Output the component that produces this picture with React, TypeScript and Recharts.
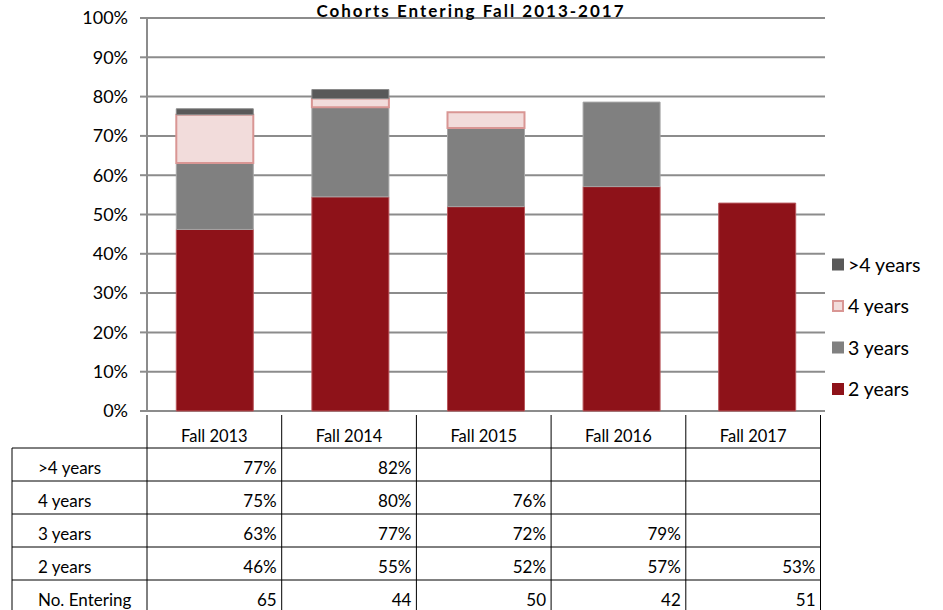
import React from 'react';
import { BarChart, Bar, XAxis, YAxis, CartesianGrid } from 'recharts';

const categories = ['Fall 2013', 'Fall 2014', 'Fall 2015', 'Fall 2016', 'Fall 2017'];
// cumulative completion rates (%)
const twoYears: (number | null)[] = [46.2, 54.5, 52.0, 57.1, 52.9];
const threeYears: (number | null)[] = [63.1, 77.3, 72.0, 78.6, null];
const fourYears: (number | null)[] = [75.4, 79.5, 76.0, null, null];
const overFourYears: (number | null)[] = [76.9, 81.8, null, null, null];
const noEntering = [65, 44, 50, 42, 51];
const yTicks = [0, 10, 20, 30, 40, 50, 60, 70, 80, 90, 100];
const title = 'Cohorts Entering Fall 2013-2017';

const series = [
  { key: 'y2', name: '2 years', cum: twoYears, fill: '#8E1219', stroke: '#b8565b', sw: 1 },
  { key: 'y3', name: '3 years', cum: threeYears, fill: '#808080', stroke: '#a6a6a6', sw: 1 },
  { key: 'y4', name: '4 years', cum: fourYears, fill: '#F2DCDB', stroke: '#D99694', sw: 2 },
  { key: 'y5', name: '>4 years', cum: overFourYears, fill: '#595959', stroke: '#8a8a8a', sw: 1 },
];

const data = categories.map((name, i) => {
  const row: any = { name };
  let prev = 0;
  series.forEach((s) => {
    const v = s.cum[i];
    if (v == null) {
      row[s.key] = null;
    } else {
      row[s.key] = +(v - prev).toFixed(2);
      prev = v;
    }
  });
  return row;
});

const W = 943;
const H = 610;
const PLOT_LEFT = 147;
const PLOT_TOP = 18;
const PLOT_BOTTOM = 411;
const PLOT_RIGHT = 825;
const Y_AXIS_W = 60;
const FONT = 'Lato, "Noto Sans", sans-serif';

const GRID = '#8c8c8c';

// table layout
const TBL_LEFT = 12;
const TBL_COL0 = 147;
const TBL_STEP = 134.7;
const TBL_HEADER_TOP = 415;
const TBL_ROW_TOP = 448;
const TBL_ROW_H = 33;

const tableRows = [
  { label: '>4 years', vals: overFourYears.map((v) => (v == null ? '' : Math.round(v) + '%')) },
  { label: '4 years', vals: fourYears.map((v) => (v == null ? '' : Math.round(v) + '%')) },
  { label: '3 years', vals: threeYears.map((v) => (v == null ? '' : Math.round(v) + '%')) },
  { label: '2 years', vals: twoYears.map((v) => (v == null ? '' : Math.round(v) + '%')) },
  { label: 'No. Entering', vals: noEntering.map((v) => String(v)) },
];

function Overlay() {
  const colX = (i: number) => TBL_COL0 + i * TBL_STEP;
  const n = categories.length;
  const lines: React.ReactNode[] = [];
  for (let i = 0; i <= n; i++) {
    lines.push(
      <line key={'v' + i} x1={colX(i)} x2={colX(i)} y1={TBL_HEADER_TOP} y2={H + 5} stroke="#000" strokeWidth={1} />
    );
  }
  lines.push(<line key="vl" x1={TBL_LEFT} x2={TBL_LEFT} y1={TBL_ROW_TOP} y2={H + 5} stroke="#000" strokeWidth={1} />);
  for (let r = 0; r < tableRows.length; r++) {
    const y = TBL_ROW_TOP + r * TBL_ROW_H;
    lines.push(<line key={'h' + r} x1={TBL_LEFT} x2={colX(n)} y1={y} y2={y} stroke="#000" strokeWidth={1} />);
  }
  const legendItems = [...series].reverse();
  return (
    <svg width={W} height={H} style={{ position: 'absolute', left: 0, top: 0, pointerEvents: 'none' }}>
      <text
        x={471}
        y={17}
        textAnchor="middle"
        fontFamily={FONT}
        fontWeight="bold"
        fontSize={17}
        letterSpacing={2}
        fill="#000"
      >
        {title}
      </text>
      {legendItems.map((s, i) => {
        const cy = 264.5 + i * 41.5;
        return (
          <g key={s.key}>
            <rect
              x={s.sw > 1 ? 833 : 832}
              y={s.sw > 1 ? cy - 5 : cy - 6}
              width={s.sw > 1 ? 10 : 12}
              height={s.sw > 1 ? 10 : 12}
              fill={s.fill}
              stroke={s.sw > 1 ? s.stroke : 'none'}
              strokeWidth={s.sw > 1 ? 2 : 0}
            />
            <text x={848} y={cy + 7} fontFamily={FONT} fontSize={19.5} fill="#000">
              {s.name}
            </text>
          </g>
        );
      })}
      {lines}
      {categories.map((c, i) => (
        <text
          key={c}
          x={colX(i) + TBL_STEP / 2}
          y={TBL_HEADER_TOP + 26.5}
          textAnchor="middle"
          fontFamily={FONT}
          fontSize={16.5}
          fill="#000"
        >
          {c}
        </text>
      ))}
      {tableRows.map((row, r) => {
        const y = TBL_ROW_TOP + r * TBL_ROW_H + 26;
        return (
          <g key={row.label}>
            <text x={38} y={y} fontFamily={FONT} fontSize={17} fill="#000">
              {row.label}
            </text>
            {row.vals.map((v, i) => (
              <text key={i} x={colX(i + 1) - 5} y={y} textAnchor="end" fontFamily={FONT} fontSize={17} fill="#000">
                {v}
              </text>
            ))}
          </g>
        );
      })}
    </svg>
  );
}

export default function App() {
  return (
    <div style={{ position: 'absolute', left: 0, top: 0, width: W, height: H, background: '#fff', overflow: 'hidden' }}>
      <BarChart
        width={W}
        height={H}
        data={data}
        margin={{ top: PLOT_TOP, right: W - PLOT_RIGHT, bottom: H - PLOT_BOTTOM, left: PLOT_LEFT - Y_AXIS_W }}
        barCategoryGap="21.6%"
      >
        <CartesianGrid vertical={false} stroke={GRID} strokeWidth={2} strokeDasharray="" />
        <XAxis dataKey="name" hide />
        <YAxis
          width={Y_AXIS_W}
          domain={[0, 100]}
          ticks={yTicks}
          interval={0}
          tickFormatter={(v: number) => `${v}%`}
          axisLine={{ stroke: GRID, strokeWidth: 2 }}
          tickLine={{ stroke: GRID, strokeWidth: 2 }}
          tickSize={7}
          tickMargin={12}
          tick={{ fill: '#000', fontSize: 18, fontFamily: FONT }}
        />
        {series.map((s) => (
          <Bar
            key={s.key}
            dataKey={s.key}
            name={s.name}
            stackId="a"
            fill={s.fill}
            stroke={s.stroke}
            strokeWidth={s.sw}
            isAnimationActive={false}
          />
        ))}
      </BarChart>
      <Overlay />
    </div>
  );
}
